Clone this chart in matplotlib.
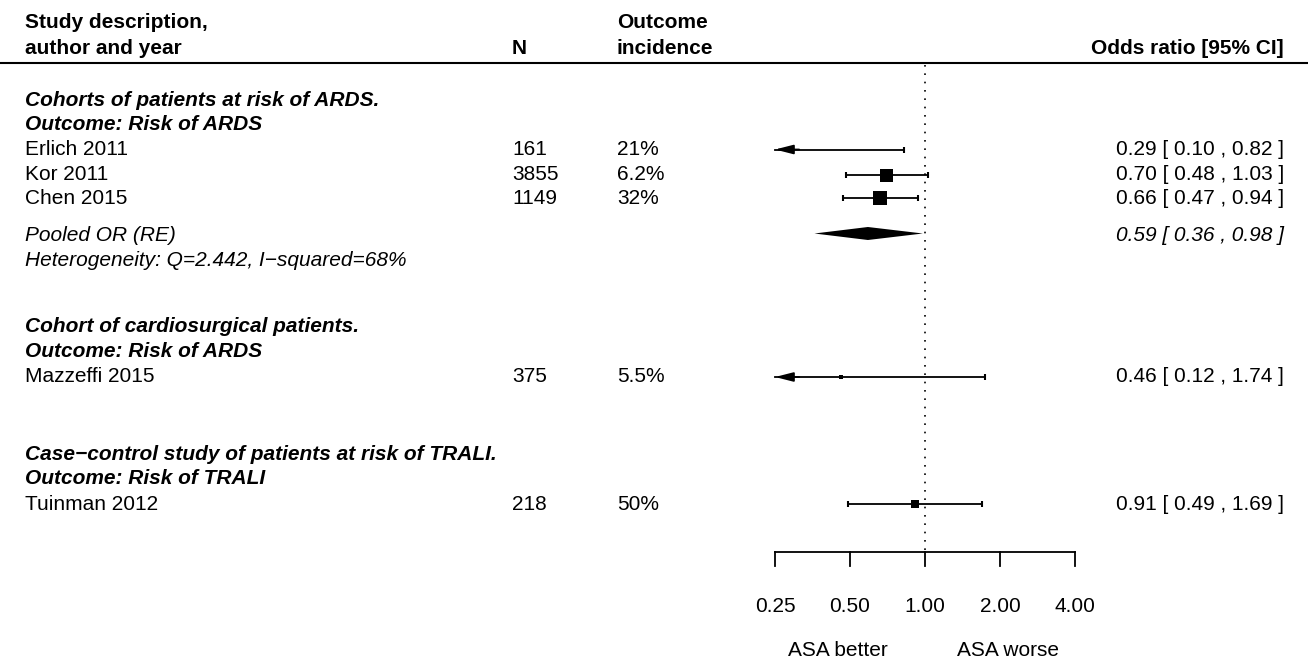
import numpy as np
import matplotlib
matplotlib.use("Agg")
import matplotlib.pyplot as plt
from matplotlib.patches import Polygon
from matplotlib.transforms import blended_transform_factory

plt.rcParams["font.family"] = ["Liberation Sans", "DejaVu Sans"]

# study data
studies = ["Erlich 2011", "Kor 2011", "Chen 2015", "Mazzeffi 2015", "Tuinman 2012"]
n_pat = ["161", "3855", "1149", "375", "218"]
incidence = ["21%", "6.2%", "32%", "5.5%", "50%"]
or_est = [0.29, 0.70, 0.66, 0.46, 0.91]
or_lo = [0.10, 0.48, 0.47, 0.12, 0.49]
or_hi = [0.82, 1.03, 0.94, 1.74, 1.69]

pooled_est, pooled_lo, pooled_hi = 0.59, 0.36, 0.98
heterogeneity = "Heterogeneity: Q=2.442, I\u2212squared=68%"

groups = [("Cohorts of patients at risk of ARDS.", "Outcome: Risk of ARDS"),
          ("Cohort of cardiosurgical patients.", "Outcome: Risk of ARDS"),
          ("Case\u2212control study of patients at risk of TRALI.", "Outcome: Risk of TRALI")]

ticks = [0.25, 0.5, 1.0, 2.0, 4.0]

# layout (pixel rows / columns of a 1308x669 canvas)
W, H = 1308, 669
study_y = [149.5, 174.5, 198, 377, 504]
group_y = [(101, 125), (326.5, 351.5), (454, 478.5)]
pooled_y, het_y = 235.5, 260
marker_px = [4, 13, 14, 4, 8]
X_TEXT, X_N, X_INC, X_OR = 25, 512, 617, 1284
X_BETTER, X_WORSE = 838, 1008
PX_PER_DOUBLING = 75
X_025 = 775
AXIS_Y = 552
FS = 15


def main():
    fig = plt.figure(figsize=(W / 100, H / 100), dpi=100)
    ax = fig.add_axes([0, 0, 1, 1])
    ax.set_xscale("log", base=2)
    left = np.log2(ticks[0]) - X_025 / PX_PER_DOUBLING
    right = np.log2(ticks[0]) + (W - X_025) / PX_PER_DOUBLING
    ax.set_xlim(2 ** left, 2 ** right)
    ax.set_ylim(H, 0)
    ax.axis("off")
    tr = blended_transform_factory(ax.transAxes, ax.transData)

    def txt(x, y, s, **kw):
        ax.text(x / W, y, s, transform=tr, va="center", fontsize=FS, **kw)

    # header
    txt(X_TEXT, 22.5, "Study description,", weight="bold")
    txt(X_TEXT, 48.5, "author and year", weight="bold")
    txt(X_N, 48.5, "N", weight="bold")
    txt(X_INC, 22.5, "Outcome", weight="bold")
    txt(X_INC, 48.5, "incidence", weight="bold")
    txt(X_OR, 48.5, "Odds ratio [95% CI]", weight="bold", ha="right")
    ax.plot([0, 1], [62.5, 62.5], transform=tr, color="black", lw=1.5)

    for (g1, g2), (y1, y2) in zip(groups, group_y):
        txt(X_TEXT, y1, g1, weight="bold", style="italic")
        txt(X_TEXT, y2, g2, weight="bold", style="italic")

    # reference line at OR = 1
    ax.vlines(1.0, 65, AXIS_Y, colors="black", linestyles=(0, (1, 4)), lw=1.2)

    for i, name in enumerate(studies):
        y = study_y[i]
        txt(X_TEXT, y, name)
        txt(X_N, y, n_pat[i])
        txt(X_INC, y, incidence[i])
        txt(X_OR, y, f"{or_est[i]:.2f} [ {or_lo[i]:.2f} , {or_hi[i]:.2f} ]", ha="right")

        lo = max(or_lo[i], ticks[0])
        ax.plot([lo, or_hi[i]], [y, y], color="black", lw=1.3)
        ax.plot([or_hi[i]], [y], marker="|", ms=5, mew=1.5, color="black")
        if or_lo[i] < ticks[0]:
            ax.annotate("", xy=(ticks[0], y), xytext=(ticks[0] * 1.25, y),
                        arrowprops=dict(arrowstyle="-|>,head_length=1.1,head_width=0.28",
                                        color="black", lw=1.3, shrinkA=0, shrinkB=0))
        else:
            ax.plot([or_lo[i]], [y], marker="|", ms=5, mew=1.5, color="black")
        ax.plot([or_est[i]], [y], marker="s", ms=marker_px[i] * 0.72,
                color="black", mew=0)

    # pooled estimate
    txt(X_TEXT, pooled_y, "Pooled OR (RE)", style="italic")
    txt(X_TEXT, het_y, heterogeneity, style="italic")
    txt(X_OR, pooled_y, f"{pooled_est:.2f} [ {pooled_lo:.2f} , {pooled_hi:.2f} ]",
        style="italic", ha="right")
    dy = pooled_y - 2
    ax.add_patch(Polygon([(pooled_lo, dy), (pooled_est, dy - 6.5),
                          (pooled_hi, dy), (pooled_est, dy + 6.5)],
                         closed=True, color="black", lw=0))

    # x axis
    ax.plot([ticks[0], ticks[-1]], [AXIS_Y, AXIS_Y], color="black", lw=1.3)
    for t in ticks:
        ax.plot([t, t], [AXIS_Y, AXIS_Y + 14], color="black", lw=1.3)
        ax.text(t, 607, f"{t:.2f}", ha="center", va="center", fontsize=FS)
    txt(X_BETTER, 650, "ASA better", ha="center")
    txt(X_WORSE, 650, "ASA worse", ha="center")

    fig.savefig("out.png", dpi=100)


if __name__ == "__main__":
    main()
